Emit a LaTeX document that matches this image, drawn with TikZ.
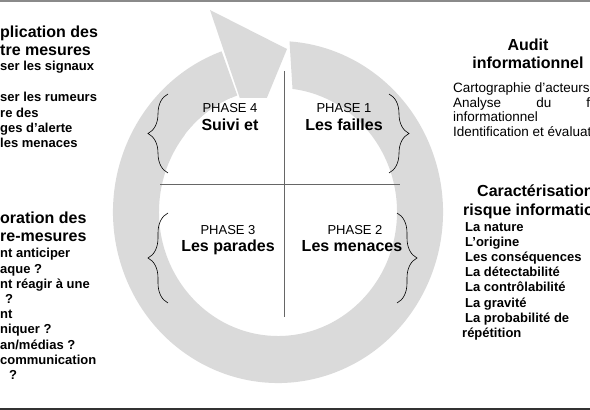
\documentclass[tikz,border=0pt]{standalone}
\usepackage{fontspec}
\setmainfont{Liberation Sans}
\usepackage{tikz}
\usetikzlibrary{calc, decorations.pathreplacing}
\definecolor{ringgray}{HTML}{DADADA}
\definecolor{axisgray}{HTML}{666666}
\definecolor{edgegray}{HTML}{8A8A8A}
\definecolor{edgedark}{HTML}{333333}

\begin{document}
\begin{tikzpicture}[x=1pt, y=1pt,
      phs/.style={font=\fontsize{13}{15}\selectfont, anchor=base, inner sep=0pt},
      ttl/.style={font=\fontsize{16}{18}\selectfont\bfseries, anchor=base,
                  align=center, inner sep=0pt},
      hdr/.style={font=\fontsize{16}{18.5}\selectfont\bfseries, anchor=base west,
                  align=left, inner sep=0pt},
      lst/.style={font=\fontsize{13}{15.2}\selectfont\bfseries, anchor=base west,
                  align=left, inner sep=0pt},
      txt/.style={font=\fontsize{13.5}{14.7}\selectfont, anchor=base west,
                  align=left, inner sep=0pt},
      brc/.style={decorate, decoration={brace, amplitude=20pt}, line width=0.6pt},
      axe/.style={axisgray, line width=0.8pt}
    ]
      \useasboundingbox (0,0) rectangle (590,410);
      \coordinate (ctr) at (278,198);

      % circular arrow
      \fill[ringgray] ([shift={(110:165 and 171)}]ctr)
        arc[start angle=110, end angle=446, x radius=165, y radius=171]
        -- ([shift={(443:119 and 124)}]ctr)
        arc[start angle=443, end angle=110, x radius=119, y radius=124] -- cycle;
      \fill[ringgray] (210,400) -- (287,361) -- (252,276) -- cycle;
      \begin{scope}
        \clip (ctr) ellipse [x radius=119, y radius=124];
        \fill[white] (185,312) rectangle (283,227);
      \end{scope}

      % page edges
      \draw[edgegray, line width=1.5pt] (0,409) -- (590,409);
      \draw[edgedark, line width=1.5pt] (0,1) -- (590,1);

      % quadrants
      \coordinate (vtop) at (284,339);
      \coordinate (vbot) at (284,93);
      \coordinate (hlft) at (160,226);
      \coordinate (hrgt) at (400,226);
      \draw[axe] (vtop) -- (vbot);
      \draw[axe] (hlft) -- (hrgt);

      \node[phs] (p4) at (230,297.5) {PHASE 4};
      \node[ttl] (t4) at (230,279.5) {Suivi et};
      \node[phs] (p1) at (344,297.5) {PHASE 1};
      \node[ttl] (t1) at (344,279.5) {Les failles};
      \node[phs] (p3) at (228,175.5) {PHASE 3};
      \node[ttl] (t3) at (228,158.5) {Les parades};
      \node[phs] (p2) at (355,175.5) {PHASE 2};
      \node[ttl] (t2) at (352,158.5) {Les menaces};

      % braces
      \coordinate (b4a) at (168,237);
      \coordinate (b4b) at (168,316);
      \coordinate (b3a) at (168,107);
      \coordinate (b3b) at (168,197);
      \coordinate (b1a) at (389,316);
      \coordinate (b1b) at (389,237);
      \coordinate (b2a) at (397,197);
      \coordinate (b2b) at (397,107);
      \draw[brc] (b4a) -- (b4b);
      \draw[brc] (b3a) -- (b3b);
      \draw[brc] (b1a) -- (b1b);
      \draw[brc] (b2a) -- (b2b);

      % side texts (placed by the baseline of their last line)
      \node[hdr] (lthd) at (0,354) {plication des\\tre mesures};
      \node[lst] (ltls) at (0,262.5) {ser les signaux\\[15.8pt]ser les rumeurs\\re des\\
        ges d'alerte\\les menaces};
      \node[hdr] (lbhd) at (0,168) {oration des\\re-mesures};
      \node[lst] (lbls) at (0,30.5) {nt anticiper\\aque ?\\nt réagir à une\\
        \hspace*{5pt}?\\nt\\niquer ?\\an/médias ?\\communication\\\hspace*{9pt}?};

      \node[ttl] (rthd) at (528,341.5) {Audit\\informationnel};
      \node[txt] (rtls) at (453,273.4) {Cartographie d'acteurs\\
        \makebox[137pt][s]{Analyse du f}\\informationnel\\Identification et évaluat};
      \node[hdr] (rbhd) at (463,194.5) {\hspace*{14pt}Caractérisation\\risque informatio};
      \node[lst] (rbls) at (462,72.5) {\hspace*{3pt}La nature\\\hspace*{3pt}L'origine\\
        \hspace*{3pt}Les conséquences\\\hspace*{3pt}La détectabilité\\
        \hspace*{3pt}La contrôlabilité\\\hspace*{3pt}La gravité\\
        \hspace*{3pt}La probabilité de\\répétition};
    \end{tikzpicture}
\end{document}
